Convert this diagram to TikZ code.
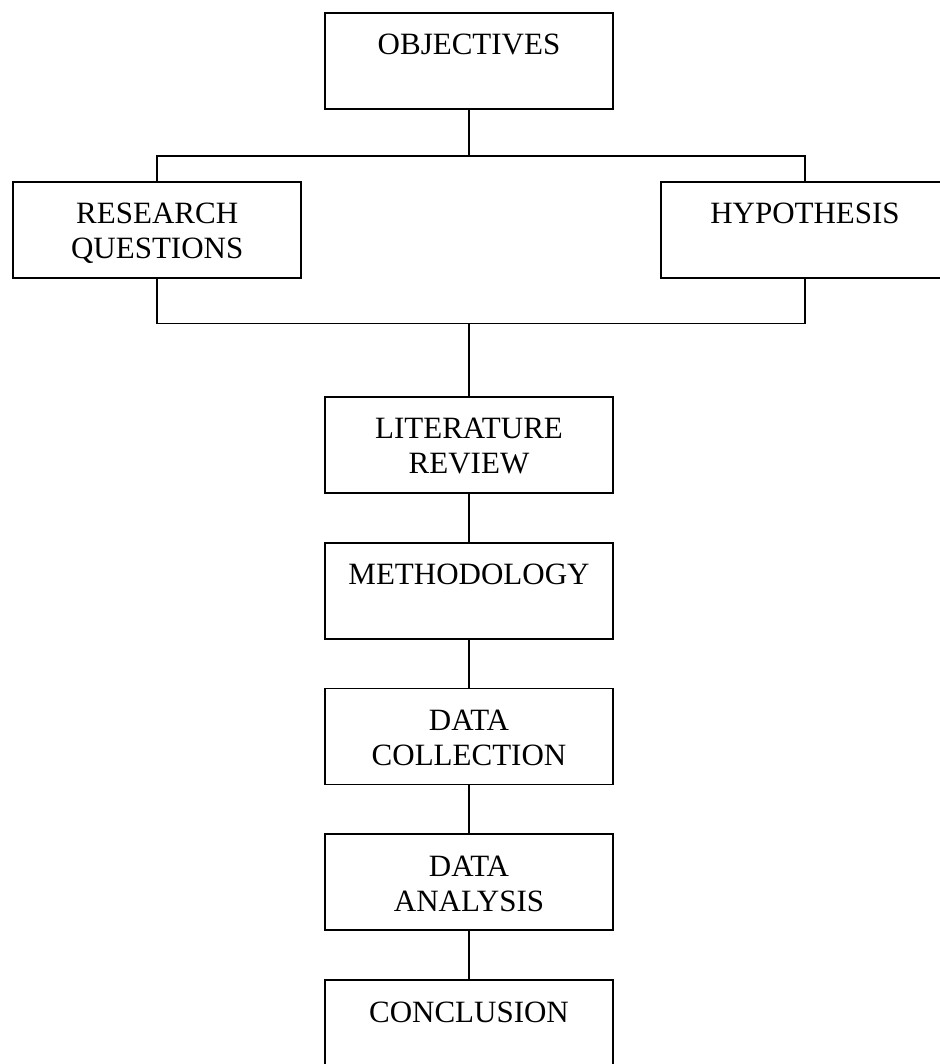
\documentclass[tikz,border=0pt]{standalone}
\usepackage{fontspec}
\setmainfont{Liberation Serif}
\usetikzlibrary{positioning}

\tikzset{
  stage/.style={draw, line width=0.9pt, minimum width=144pt, minimum height=48pt,
    text width=140pt, inner xsep=2pt, inner ysep=0pt, align=center,
    text height=21pt, text depth=27pt, font=\fontsize{15.5}{17.5}\selectfont},
  link/.style={line width=0.9pt}
}

\begin{document}
\begin{tikzpicture}[node distance=24pt]
    \useasboundingbox (0,0) rectangle (469.5pt,-532pt);
    % top of the plan
    \node[stage, anchor=north] (obj) at (234.5pt,-6pt) {OBJECTIVES};
    \coordinate (topbar) at (234.5pt,-78pt);
    \node[stage, anchor=north] (rq) at (78.6pt,-90.5pt) {RESEARCH\\QUESTIONS};
    \node[stage, anchor=north] (hyp) at (402.5pt,-90.5pt) {HYPOTHESIS};
    \coordinate (botbar) at (234.5pt,-161.7pt);
    % main chain
    \node[stage, anchor=north] (lit) at (234.5pt,-198pt) {LITERATURE\\REVIEW};
    \node[stage, below=of lit] (meth) {METHODOLOGY};
    \node[stage, below=of meth] (coll) {DATA\\COLLECTION};
    \node[stage, below=of coll] (anal) {DATA\\ANALYSIS};
    \node[stage, below=of anal] (conc) {CONCLUSION};

    \draw[link] (obj.south) -- (topbar);
    \draw[link] (rq.north) |- (topbar) -| (hyp.north);
    \draw[link] (rq.south) |- (botbar) -| (hyp.south);
    \draw[link] (botbar) -- (lit.north);
    \foreach \a/\b in {lit/meth, meth/coll, coll/anal, anal/conc}
        \draw[link] (\a) -- (\b);
\end{tikzpicture}
\end{document}
